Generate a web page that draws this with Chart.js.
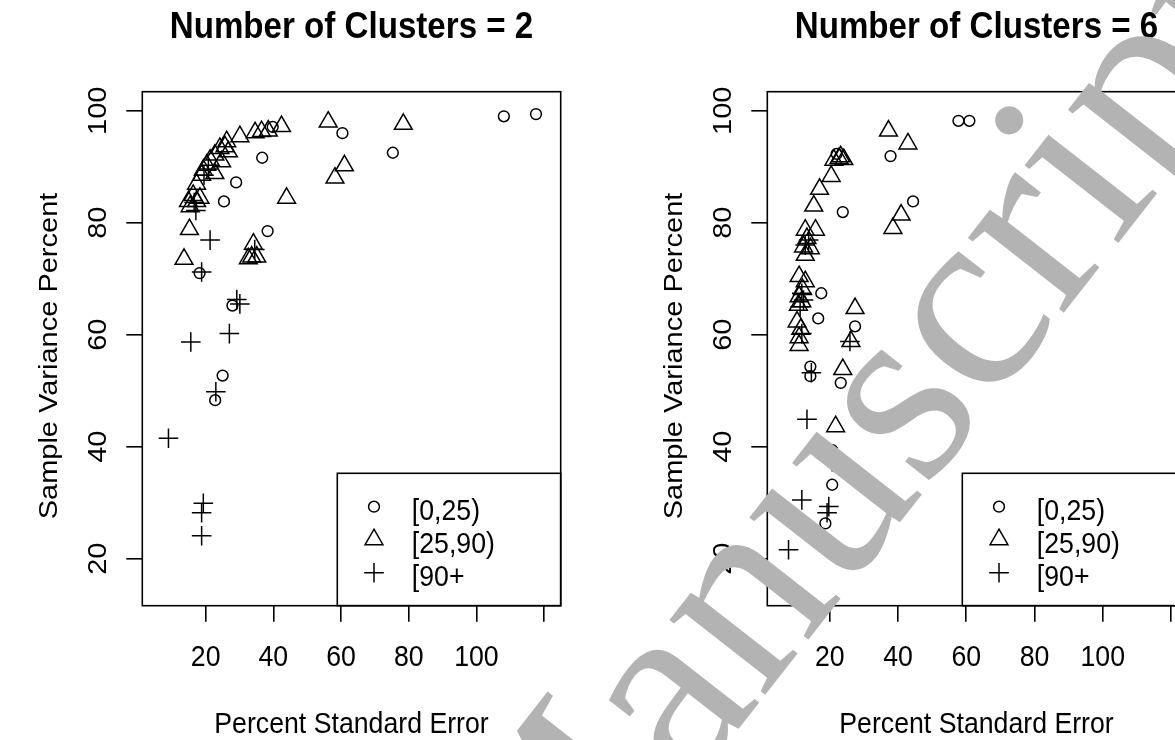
<!DOCTYPE html>
<html>
<head>
<meta charset="utf-8">
<script src="https://cdn.jsdelivr.net/npm/chart.js@4.4.1/dist/chart.umd.min.js"></script>
<style>
  html, body { margin: 0; padding: 0; background: #fff; overflow: hidden; }
  #wrap { position: relative; width: 1175px; height: 740px; overflow: hidden; }
  canvas { position: absolute; top: 0; }
  #c2 { left: 0; }
  #c6 { left: 625px; }
  #mark { left: 0; pointer-events: none; }
</style>
</head>
<body>
<div id="wrap">
  <canvas id="c2" width="625" height="740"></canvas>
  <canvas id="c6" width="625" height="740"></canvas>
  <canvas id="mark" width="1175" height="740"></canvas>
</div>
<script>
// legend groups and the symbol of each
const groups = ['[0,25)', '[25,90)', '[90+'];
const styles = ['circle', 'triangle', 'cross'];
const sizes = [5.4, 10.3, 9.8];

const xTicks = [20, 40, 60, 80, 100, 120];
const xTickLabels = ['20', '40', '60', '80', '100', ''];
const yTicks = [20, 40, 60, 80, 100];
const yTickLabels = ['20', '40', '60', '80', '100'];

// Number of Clusters = 2  -> [percent standard error, sample variance percent]
const k2Low = [[108.1, 99.0], [117.6, 99.4], [60.4, 96.0], [75.3, 92.5], [36.7, 91.6], [39.8, 97.1],
  [29.0, 87.2], [25.4, 83.8], [38.3, 78.5], [18.2, 71.0], [27.9, 65.2], [25.0, 52.7], [22.8, 48.3]];
const k2Mid = [[56.2, 98.0], [78.4, 97.6], [42.4, 97.2], [38.5, 96.4], [36.5, 96.3], [34.6, 96.1],
  [30.1, 95.4], [26.2, 94.5], [25.7, 93.6], [24.2, 93.3], [26.7, 92.7], [22.7, 92.1], [24.7, 90.9],
  [21.3, 91.2], [20.3, 90.3], [19.3, 89.4], [22.7, 88.8], [18.8, 88.5], [17.3, 86.9], [16.3, 84.9],
  [14.9, 83.8], [17.3, 83.8], [15.4, 82.9], [18.3, 84.4], [61.0, 90.2], [58.2, 88.0], [43.9, 84.4],
  [15.2, 78.8], [13.6, 73.5], [34.1, 76.2], [33.6, 73.9], [32.6, 73.6], [35.1, 73.9]];
const k2High = [[17.1, 82.2], [21.3, 76.9], [18.8, 71.2], [29.2, 66.3], [30.1, 65.5], [27.0, 60.2],
  [15.6, 58.7], [23.0, 49.8], [9.0, 41.5], [19.3, 29.9], [18.8, 28.2], [18.8, 24.1], [19.5, 88.5],
  [20.8, 89.6], [16.6, 83.6], [34.5, 75.2]];

// Number of Clusters = 6
const k6Low = [[57.7, 98.2], [60.9, 98.2], [37.8, 91.9], [44.4, 83.8], [23.8, 81.9], [17.5, 67.4],
  [16.6, 62.9], [27.4, 61.5], [14.3, 54.3], [14.3, 52.6], [23.2, 51.4], [20.7, 39.4], [20.7, 33.2],
  [18.7, 26.3], [22.0, 92.3]];
const k6Mid = [[37.2, 96.4], [42.9, 94.1], [22.7, 91.5], [21.2, 91.2], [24.1, 91.3], [23.2, 91.8],
  [20.4, 88.3], [17.0, 86.0], [15.3, 83.0], [40.9, 81.4], [38.5, 79.0], [12.8, 78.7], [15.8, 78.7],
  [13.3, 77.2], [12.3, 75.7], [14.3, 75.4], [12.8, 74.2], [11.0, 70.4], [12.8, 69.5], [12.0, 68.1],
  [11.0, 66.8], [11.8, 65.9], [10.8, 65.3], [10.4, 62.3], [11.5, 61.0], [11.0, 59.5], [11.0, 58.1],
  [27.4, 64.7], [26.2, 58.8], [23.8, 53.8], [21.7, 43.6]];
const k6High = [[13.8, 76.9], [12.8, 76.0], [11.8, 67.4], [12.3, 66.2], [11.3, 65.0], [11.8, 60.2],
  [25.9, 58.8], [14.6, 53.2], [13.3, 44.9], [20.7, 38.2], [20.7, 37.3], [11.8, 30.5], [19.7, 29.3],
  [19.2, 28.2], [7.9, 21.6]];

const SQ = 0.92; // lettering in the picture is a bit narrow
const FONT = '29px "Liberation Sans", Arial, sans-serif';

function txt(ctx, s, x, y, font, align, rot) {
  ctx.save();
  ctx.translate(x, y);
  ctx.scale(SQ, 1);
  if (rot) ctx.rotate(-Math.PI / 2);
  ctx.font = font;
  ctx.textAlign = align || 'center';
  ctx.textBaseline = 'alphabetic';
  ctx.fillStyle = '#000';
  ctx.fillText(s, 0, 0);
  ctx.restore();
}

function symbol(ctx, i, x, y) {
  ctx.save();
  ctx.strokeStyle = '#000';
  ctx.fillStyle = 'rgba(0,0,0,0)';
  ctx.lineWidth = 1.5;
  Chart.helpers.drawPoint(ctx, { pointStyle: styles[i], radius: sizes[i], rotation: 0, borderWidth: 1.5 }, x, y);
  ctx.restore();
}

// box, legend and all the lettering, R style
const rPanel = (title) => ({
  id: 'rPanel',
  afterDraw(chart) {
    const ctx = chart.ctx;
    const a = chart.chartArea;
    const xs = chart.scales.x, ys = chart.scales.y;

    ctx.save();
    ctx.strokeStyle = '#000';
    ctx.lineWidth = 1.6;
    ctx.strokeRect(a.left, a.top, a.right - a.left, a.bottom - a.top);

    // legend in the bottom right corner
    const lx = 337.3, ly = 473.3;
    ctx.strokeRect(lx, ly, a.right - lx, a.bottom - ly);
    const rows = [506.7, 539.5, 572.7];
    groups.forEach((g, i) => {
      symbol(ctx, i, lx + 36.7, rows[i]);
      txt(ctx, g, lx + 74.5, rows[i] + 13.5, FONT, 'left');
    });
    ctx.restore();

    xTicks.forEach((v, i) => txt(ctx, xTickLabels[i], xs.getPixelForValue(v), 666, FONT));
    yTicks.forEach((v, i) => txt(ctx, yTickLabels[i], 106, ys.getPixelForValue(v), FONT, 'center', true));

    const cx = (a.left + a.right) / 2;
    txt(ctx, title, cx, 38, 'bold 36px "Liberation Sans", Arial, sans-serif');
    txt(ctx, 'Percent Standard Error', cx, 733, FONT);
    txt(ctx, 'Sample Variance Percent', 57, 356, FONT, 'center', true);
  }
});

function makeChart(id, series, xMin, xMax, title) {
  return new Chart(document.getElementById(id), {
    type: 'scatter',
    data: {
      datasets: series.map((pts, i) => ({
        label: groups[i],
        data: pts.map(p => ({ x: p[0], y: p[1] })),
        pointStyle: styles[i],
        pointRadius: sizes[i],
        pointHoverRadius: sizes[i],
        borderColor: '#000',
        backgroundColor: 'rgba(0,0,0,0)',
        borderWidth: 1.5
      }))
    },
    options: {
      responsive: false,
      animation: false,
      devicePixelRatio: 1,
      events: [],
      layout: { padding: { left: 0, top: 91.7, right: 64.3, bottom: 0 } },
      plugins: { legend: { display: false }, tooltip: { enabled: false } },
      scales: {
        x: {
          type: 'linear', min: xMin, max: xMax,
          afterBuildTicks: s => { s.ticks = xTicks.map(v => ({ value: v })); },
          afterFit: s => { s.height = 134.3; },
          ticks: { display: false },
          grid: { drawOnChartArea: false, tickLength: 16, color: '#000', lineWidth: 1.6 },
          border: { display: false }
        },
        y: {
          type: 'linear', min: 11.6, max: 103.4,
          afterBuildTicks: s => { s.ticks = yTicks.map(v => ({ value: v })); },
          afterFit: s => { s.width = 142.3; },
          ticks: { display: false },
          grid: { drawOnChartArea: false, tickLength: 16, color: '#000', lineWidth: 1.6 },
          border: { display: false }
        }
      }
    },
    plugins: [rPanel(title)]
  });
}

makeChart('c2', [k2Low, k2Mid, k2High], 1.27, 124.9, 'Number of Clusters = 2');
makeChart('c6', [k6Low, k6Mid, k6High], 1.68, 124.3, 'Number of Clusters = 6');

// grey "Manuscript" stamp lying across the page
const m = document.getElementById('mark').getContext('2d');
m.save();
m.translate(544, 978);
m.rotate(-52 * Math.PI / 180);
m.font = '265px "Liberation Serif", "Times New Roman", serif';
m.fillStyle = '#b3b3b3';
m.fillText('Manuscript', 0, 0);
m.restore();
</script>
</body>
</html>
